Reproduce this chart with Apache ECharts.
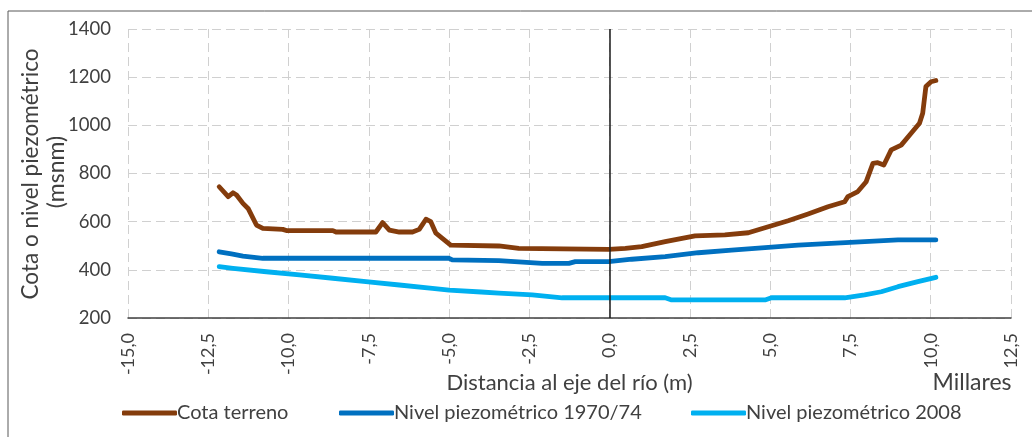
<!DOCTYPE html>
<html>
<head>
<meta charset="utf-8">
<script src="https://cdn.jsdelivr.net/npm/echarts@6/dist/echarts.min.js"></script>
<style>
  html, body { margin: 0; padding: 0; background: #fff; }
  #chart { width: 1032px; height: 437px; }
</style>
</head>
<body>
<div id="chart"></div>
<script>
// ---- Data (x in thousands of metres, y in msnm) ----
const seriesNames = ['Cota terreno', 'Nivel piezométrico 1970/74', 'Nivel piezométrico 2008'];

const cotaX = [-12.16,-11.88,-11.73,-11.62,-11.42,-11.26,-11.0,-10.8,-10.18,-10.07,-8.62,-8.52,-7.28,-7.07,-6.86,-6.55,-6.14,-5.93,-5.72,-5.57,-5.41,-5.21,-4.95,-3.45,-2.83,-0.03,0.49,1.0,1.73,2.66,3.59,4.32,4.94,5.56,6.18,6.80,7.32,7.42,7.73,7.99,8.20,8.35,8.54,8.77,9.08,9.39,9.65,9.75,9.85,10.01,10.16];
const cotaY = [745,704,720,711,676,655,586,572,568,563,563,557,557,596,565,557,557,568,610,600,552,531,503,499,489,485,489,496,517,541,545,554,579,604,632,662,683,704,725,766,842,845,835,898,918,967,1009,1050,1161,1181,1186];

const n1970X = [-12.16,-11.78,-11.42,-10.80,-5.0,-4.90,-3.45,-2.10,-1.27,-1.07,-0.03,0.69,1.73,2.76,3.80,4.84,5.87,6.90,7.94,8.98,10.16];
const n1970Y = [475,466,457,448,448,441,438,427,427,434,434,444,455,471,482,492,503,510,517,524,524];

const n2008X = [-12.16,-11.73,-10.69,-9.66,-8.62,-7.59,-6.55,-5.52,-5.0,-4.0,-3.45,-2.41,-1.48,1.73,1.93,4.84,5.04,7.32,7.94,8.46,8.98,9.60,10.16];
const n2008Y = [413,406,392,379,365,351,337,323,316,308,303,296,284,284,275,275,284,284,296,309,330,351,369];

const xTickLabels = ['-15,0','-12,5','-10,0','-7,5','-5,0','-2,5','0,0','2,5','5,0','7,5','10,0','12,5'];
const yTickLabels = ['200','400','600','800','1000','1200','1400'];

const xMin = -15, xMax = 12.5, xStep = 2.5;
const yMin = 200, yMax = 1400, yStep = 200;

const pair = (xs, ys) => xs.map((x, i) => [x, ys[i]]);
const colors = ['#843C0C', '#0070C0', '#00B0F0'];
const FONT = 'Lato';
const TXT = '#404040';

const chart = echarts.init(document.getElementById('chart'), null, { renderer: 'canvas' });

const lineSeries = (name, data, color) => ({
  name, type: 'line', data, showSymbol: false, symbol: 'none',
  lineStyle: { color, width: 4.8, cap: 'round', join: 'round' },
  itemStyle: { color },
  animation: false
});

const s1 = lineSeries(seriesNames[0], pair(cotaX, cotaY), colors[0]);
s1.markLine = {
  silent: true, symbol: ['none', 'none'], animation: false,
  label: { show: false },
  lineStyle: { color: '#1a1a1a', width: 1.5, type: 'solid' },
  data: [{ xAxis: 0 }]
};

const legendAt = (left, name) => ({
  bottom: 9, left, itemWidth: 55, itemHeight: 5, icon: 'roundRect',
  textStyle: { color: TXT, fontSize: 20, fontFamily: FONT, padding: [0, 0, 0, -5] },
  data: [name]
});

chart.setOption({
  animation: false,
  backgroundColor: '#ffffff',
  textStyle: { fontFamily: FONT },
  grid: { left: 128, right: 21, top: 29, bottom: 119, containLabel: false },
  xAxis: {
    type: 'value', min: xMin, max: xMax, interval: xStep,
    name: 'Distancia al eje del río (m)', nameLocation: 'middle', nameGap: 54,
    nameMoveOverlap: false,
    nameTextStyle: { color: TXT, fontSize: 22, fontFamily: FONT },
    axisLine: { show: true, onZero: false, lineStyle: { color: '#404040', width: 1.5 } },
    axisTick: { show: false },
    axisLabel: {
      rotate: 90, margin: 15, color: TXT, fontSize: 18, fontFamily: FONT,
      formatter: v => xTickLabels[Math.round((v - xMin) / xStep)]
    },
    splitLine: { show: true, lineStyle: { color: '#d0d0d0', width: 1, type: [9, 5] } }
  },
  yAxis: {
    type: 'value', min: yMin, max: yMax, interval: yStep,
    axisLine: { show: false },
    axisTick: { show: false },
    axisLabel: {
      margin: 17, color: TXT, fontSize: 18.5, fontFamily: FONT,
      formatter: v => yTickLabels[Math.round((v - yMin) / yStep)]
    },
    splitLine: { show: true, lineStyle: { color: '#d0d0d0', width: 1, type: [9, 5] } }
  },
  legend: [
    legendAt(117, seriesNames[0]),
    legendAt(334, seriesNames[1]),
    legendAt(686, seriesNames[2])
  ],
  graphic: [
    { type: 'rect', silent: true, shape: { x: 8, y: 11, width: 1040, height: 440 },
      style: { fill: 'none', stroke: '#595959', lineWidth: 1 } },
    { type: 'text', silent: true, x: 31, y: 174, rotation: Math.PI / 2,
      style: { text: 'Cota o nivel piezométrico', fill: TXT, font: '22.5px ' + FONT, align: 'center', verticalAlign: 'middle' } },
    { type: 'text', silent: true, x: 57, y: 172, rotation: Math.PI / 2,
      style: { text: '(msnm)', fill: TXT, font: '23px ' + FONT, align: 'center', verticalAlign: 'middle' } },
    { type: 'text', silent: true, x: 972, y: 383,
      style: { text: 'Millares', fill: TXT, font: '23px ' + FONT, align: 'center', verticalAlign: 'middle' } }
  ],
  series: [
    s1,
    lineSeries(seriesNames[1], pair(n1970X, n1970Y), colors[1]),
    lineSeries(seriesNames[2], pair(n2008X, n2008Y), colors[2])
  ]
});
</script>
</body>
</html>
